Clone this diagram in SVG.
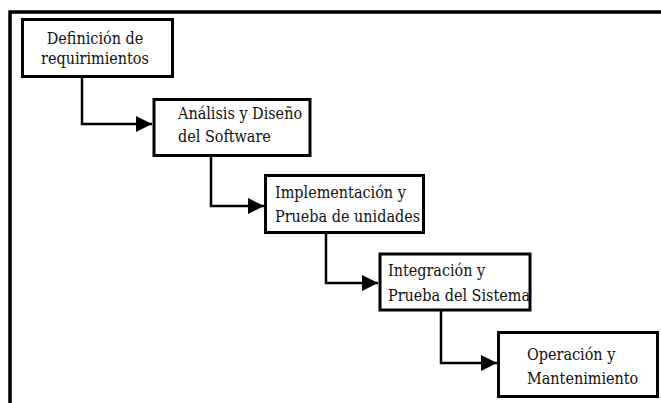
<svg xmlns="http://www.w3.org/2000/svg" width="661" height="403" viewBox="0 0 661 403">
  <style>
    .box { fill: #ffffff; stroke: #000000; stroke-width: 3; }
    .lbl { font-family: 'DejaVu Serif Condensed', 'DejaVu Serif', serif; font-stretch: condensed; font-size: 16px; fill: #111111; }
    .conn { fill: none; stroke: #000000; stroke-width: 2.5; }
    .frame { fill: none; stroke: #000000; stroke-width: 3.5; }
  </style>
  <defs>
    <marker id="arrow" markerUnits="userSpaceOnUse" markerWidth="17" markerHeight="17" refX="16" refY="8" orient="auto">
      <path d="M0,0 L16,8 L0,16 Z" fill="#000000"/>
    </marker>
  </defs>
  <rect width="661" height="403" fill="#ffffff"/>
  <path class="frame" d="M10 403 V12 H661"/>

  <g id="connectors">
    <path class="conn" d="M82 77 V124 H152" marker-end="url(#arrow)"/>
    <path class="conn" d="M211 157 V206 H264" marker-end="url(#arrow)"/>
    <path class="conn" d="M326 234 V283 H378" marker-end="url(#arrow)"/>
    <path class="conn" d="M441 311 V363 H497" marker-end="url(#arrow)"/>
  </g>

  <g id="n1">
    <rect class="box" x="22.5" y="19.5" width="150" height="57"/>
    <text class="lbl" x="95" y="44" text-anchor="middle">Definición de</text>
    <text class="lbl" x="95" y="64" text-anchor="middle">requirimientos</text>
  </g>
  <g id="n2">
    <rect class="box" x="154" y="99.5" width="156" height="56"/>
    <text class="lbl" x="178" y="119">Análisis y Diseño</text>
    <text class="lbl" x="178" y="142">del Software</text>
  </g>
  <g id="n3">
    <rect class="box" x="265.5" y="175.5" width="158" height="57"/>
    <text class="lbl" x="275" y="198">Implementación y</text>
    <text class="lbl" x="275" y="222">Prueba de unidades</text>
  </g>
  <g id="n4">
    <rect class="box" x="380" y="254" width="150" height="56"/>
    <text class="lbl" x="388" y="276">Integración y</text>
    <text class="lbl" x="388" y="301">Prueba del Sistema</text>
  </g>
  <g id="n5">
    <rect class="box" x="498.5" y="332.5" width="159" height="64"/>
    <text class="lbl" x="527" y="360">Operación y</text>
    <text class="lbl" x="527" y="384">Mantenimiento</text>
  </g>
</svg>
